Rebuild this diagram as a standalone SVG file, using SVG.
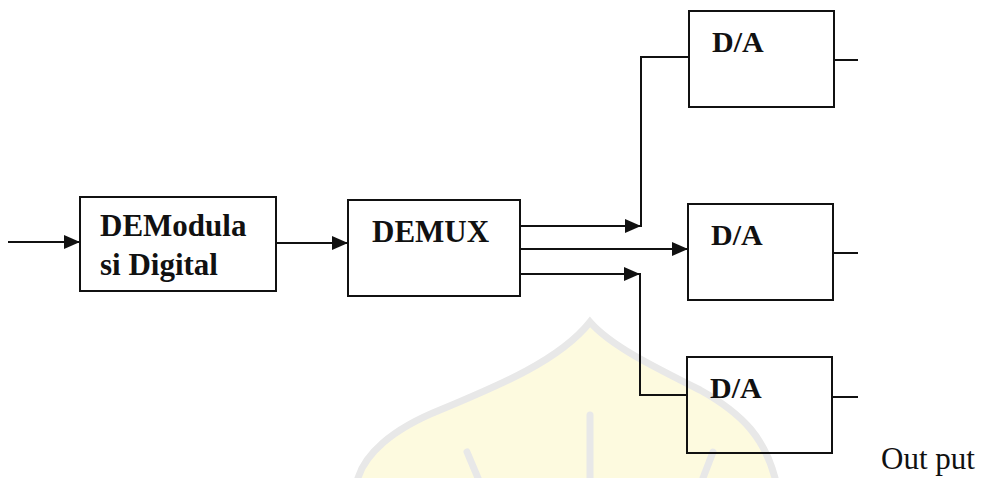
<svg xmlns="http://www.w3.org/2000/svg" width="982" height="478" viewBox="0 0 982 478">
  <defs>
    <marker id="arrow" markerUnits="userSpaceOnUse" markerWidth="17" markerHeight="14" refX="16" refY="7" orient="auto">
      <path d="M0,0 L16,7 L0,14 Z" fill="#111"/>
    </marker>
    <style>
      .box { fill: none; stroke: #111; stroke-width: 2; }
      .wire { fill: none; stroke: #111; stroke-width: 2; }
      .lbl { font-family: "Liberation Serif", "Times New Roman", serif; font-weight: bold; fill: #111; }
      .plain { font-family: "Liberation Serif", "Times New Roman", serif; fill: #111; }
      .mark-line { fill: none; stroke: #e8e8e8; stroke-width: 7; stroke-linecap: round; }
    </style>
  </defs>

  <rect width="982" height="478" fill="#ffffff"/>

  <!-- faint background emblem -->
  <g id="emblem">
    <path d="M590,322 C560,360 500,385 440,410 C390,430 365,455 358,478 L775,478 C765,440 745,415 700,390 C650,365 610,345 590,322 Z" fill="#fdfadf"/>
    <path class="mark-line" d="M358,478 C365,455 390,430 440,410 C500,385 560,360 590,322 C610,345 650,365 700,390 C745,415 765,440 775,478"/>
    <path class="mark-line" d="M590,415 V478"/>
    <path class="mark-line" d="M467,452 L478,478"/>
    <path class="mark-line" d="M713,452 L703,478"/>
  </g>

  <g id="demod">
    <rect class="box" x="80" y="197" width="196" height="94"/>
    <text class="lbl" x="100" y="236" font-size="31">DEModula</text>
    <text class="lbl" x="100" y="275" font-size="31">si Digital</text>
  </g>

  <g id="demux">
    <rect class="box" x="348" y="200" width="172" height="96"/>
    <text class="lbl" x="372" y="242" font-size="31">DEMUX</text>
  </g>

  <g id="da1">
    <rect class="box" x="689" y="11" width="145" height="96"/>
    <text class="lbl" x="712" y="52" font-size="30">D/A</text>
  </g>

  <g id="da2">
    <rect class="box" x="688" y="204" width="145" height="96"/>
    <text class="lbl" x="711" y="245" font-size="30">D/A</text>
  </g>

  <g id="da3">
    <rect class="box" x="687" y="357" width="145" height="96"/>
    <text class="lbl" x="710" y="398" font-size="30">D/A</text>
  </g>

  <g id="connectors">
    <path class="wire" d="M8,242 H80" marker-end="url(#arrow)"/>
    <path class="wire" d="M276,243 H348" marker-end="url(#arrow)"/>
    <path class="wire" d="M520,226 H641" marker-end="url(#arrow)"/>
    <path class="wire" d="M641,227 V57 H689"/>
    <path class="wire" d="M520,249 H688" marker-end="url(#arrow)"/>
    <path class="wire" d="M520,274 H640" marker-end="url(#arrow)"/>
    <path class="wire" d="M640,273 V395 H687"/>
    <path class="wire" d="M834,60 H858"/>
    <path class="wire" d="M833,253 H858"/>
    <path class="wire" d="M832,397 H858"/>
  </g>

  <g id="output-label">
    <text class="plain" x="881" y="469" font-size="31">Out put</text>
  </g>
</svg>
